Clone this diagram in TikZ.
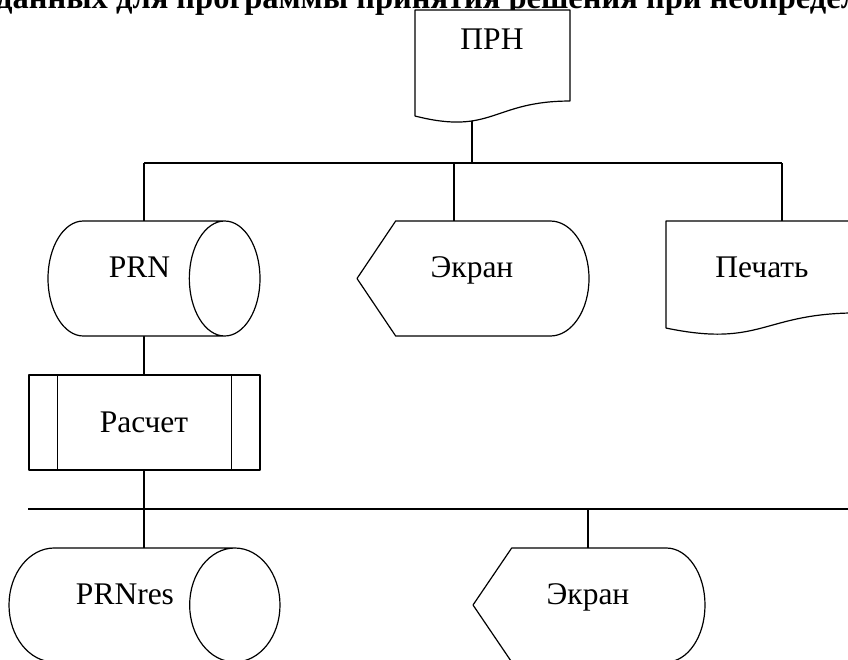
\documentclass[tikz,border=0pt]{standalone}
\usepackage{fontspec}
\setmainfont{Liberation Serif}
\usepackage{tikz}
\usetikzlibrary{calc}
\tikzstyle{blk} = [rectangle, inner sep=0pt, outer sep=0pt]
\tikzstyle{lbl} = [anchor=base, inner sep=0pt, font=\fontsize{31.5}{38}\selectfont]
\tikzstyle{outline} = [line width=1.2pt, fill=white, line join=round]
\tikzstyle{wire} = [line width=1.2pt]

% sheet of paper with a wavy lower edge
\newcommand{\docshape}[1]{%
  \filldraw[outline] (#1.north west) -- (#1.north east)
    -- ($(#1.north east)!0.802!(#1.south east)$)
    .. controls ($(#1.north)!0.802!(#1.south)$) and ($(#1.north)!1.1075!(#1.south)$)
    .. ($(#1.north west)!0.934!(#1.south west)$) -- cycle;}
% lying drum, end ellipse takes a third of the width
\newcommand{\drumshape}[1]{%
  \filldraw[outline] let \p1=(#1.north west), \p2=(#1.south east),
      \n1={(\x2-\x1)/6}, \n2={(\y1-\y2)/2} in
    (\x1+\n1,\y1) -- (\x2-\n1,\y1)
    arc[start angle=90, end angle=-90, x radius=\n1, y radius=\n2]
    -- (\x1+\n1,\y2)
    arc[start angle=270, end angle=90, x radius=\n1, y radius=\n2] -- cycle
    (\x2-\n1,\y1) arc[start angle=90, end angle=450, x radius=\n1, y radius=\n2];}
% display: pointed left side, rounded right side
\newcommand{\screenshape}[1]{%
  \filldraw[outline] let \p1=(#1.north west), \p2=(#1.south east),
      \n1={(\x2-\x1)/6}, \n2={(\y1-\y2)/2} in
    (\x1,\y1-\n2) -- (\x1+\n1,\y1) -- (\x2-\n1,\y1)
    arc[start angle=90, end angle=-90, x radius=\n1, y radius=\n2]
    -- (\x1+\n1,\y2) -- cycle;}
% predefined process: box with two side stripes
\newcommand{\procshape}[1]{%
  \filldraw[outline] (#1.north west) rectangle (#1.south east);
  \draw[wire] ($(#1.north west)!0.125!(#1.north east)$) -- ($(#1.south west)!0.125!(#1.south east)$)
    ($(#1.north east)!0.125!(#1.north west)$) -- ($(#1.south east)!0.125!(#1.south west)$);}

\begin{document}
\begin{tikzpicture}[x=1pt, y=-1pt]
	\useasboundingbox (0,0) rectangle (848,659);
	\clip (0,0) rectangle (848,659);

	\node (title) [anchor=base west, inner sep=0pt, font=\bfseries\fontsize{32.5}{39}\selectfont] at (-4,8) {данных для программы принятия решения при неопредел};

	\node (prn) [blk, minimum width=155pt, minimum height=113.5pt] at (492.5,66.75) {};
	\node (prnfile) [blk, minimum width=212pt, minimum height=115pt] at (154,278.5) {};
	\node (scr) [blk, minimum width=232pt, minimum height=115pt] at (473,278.5) {};
	\node (print) [blk, minimum width=192pt, minimum height=114.6pt] at (762,278.3) {};
	\node (calc) [blk, minimum width=231pt, minimum height=95pt] at (144.5,422.5) {};
	\node (res) [blk, minimum width=271pt, minimum height=114pt] at (144.5,605) {};
	\node (scrres) [blk, minimum width=232pt, minimum height=114pt] at (589,605) {};

	\coordinate (b1t) at (472,163);
	\coordinate (b1l) at (144,163);
	\coordinate (b1m) at (454,163);
	\coordinate (b1r) at (782,163);
	\coordinate (b2l) at (28,509);
	\coordinate (b2m) at (588,509);
	\coordinate (b2r) at (860,509);

	\draw[wire] (b1t |- prn.center) -- (b1t);
	\draw[wire] (b1l) -- (b1r);
	\draw[wire] (b1l) -- (b1l |- res.center);
	\draw[wire] (b1m) -- (b1m |- scr.center);
	\draw[wire] (b1r) -- (b1r |- print.center);
	\draw[wire] (b2l) -- (b2r);
	\draw[wire] (b2m) -- (b2m |- scrres.center);

	\docshape{prn}
	\drumshape{prnfile}
	\screenshape{scr}
	\docshape{print}
	\procshape{calc}
	\drumshape{res}
	\screenshape{scrres}

	\node (prn-t) [lbl] at (492,49) {ПРН};
	\node (prnfile-t) [lbl] at (139.5,277) {PRN};
	\node (scr-t) [lbl] at (472,277) {Экран};
	\node (print-t) [lbl] at (762,277) {Печать};
	\node (calc-t) [lbl] at (144,432) {Расчет};
	\node (res-t) [lbl] at (125,604) {PRNres};
	\node (scrres-t) [lbl] at (588,604) {Экран};
\end{tikzpicture}
\end{document}
